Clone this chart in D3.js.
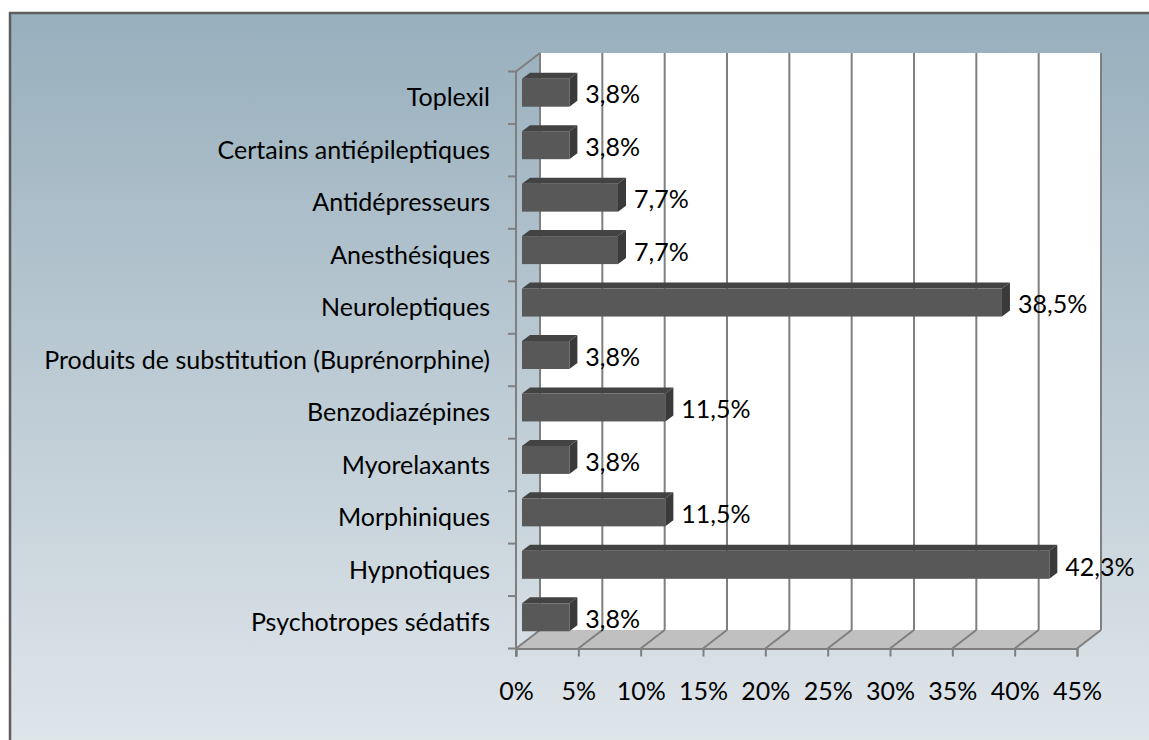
<!DOCTYPE html>
<html>
<head>
<meta charset="utf-8">
<script src="https://cdn.jsdelivr.net/npm/d3@7"></script>
<style>
  body { margin: 0; background: #ffffff; }
  text { font-family: Lato, "Open Sans", sans-serif; fill: #000; }
</style>
</head>
<body>
<svg id="svgCanvas" width="1149" height="740"></svg>
<script>
var categories = ["Toplexil", "Certains antiépileptiques", "Antidépresseurs", "Anesthésiques",
                  "Neuroleptiques", "Produits de substitution (Buprénorphine)", "Benzodiazépines",
                  "Myorelaxants", "Morphiniques", "Hypnotiques", "Psychotropes sédatifs"];
var values = [3.8, 3.8, 7.7, 7.7, 38.5, 3.8, 11.5, 3.8, 11.5, 42.3, 3.8];
var valueLabels = ["3,8%", "3,8%", "7,7%", "7,7%", "38,5%", "3,8%", "11,5%", "3,8%", "11,5%", "42,3%", "3,8%"];
var xTicks = [0, 5, 10, 15, 20, 25, 30, 35, 40, 45];

var canvas = d3.select("#svgCanvas");

// 3D depth of the plot box
var depthX = 24, depthY = -18.5;
// bar placement inside the depth
var barOffX = 6, barOffY = -5;
var barDX = 8, barDY = -6;
var barH = 28;
var fontSize = 25;

var x = d3.scaleLinear().domain([0, 45]).range([516, 1077]);
var y = d3.scaleBand().domain(categories).range([71.5, 648.5]);

var bottomY = y.range()[1], topY = y.range()[0];

// background
var defs = canvas.append("defs");
var grad = defs.append("linearGradient")
                .attr("id", "bg")
                .attr("x1", 0).attr("y1", 0).attr("x2", 0).attr("y2", 1);
grad.append("stop").attr("offset", "0%").attr("stop-color", "#98afbd");
grad.append("stop").attr("offset", "100%").attr("stop-color", "#e2e8ec");

canvas.append("rect")
        .attr("x", 10)
        .attr("y", 13)
        .attr("width", 1200)
        .attr("height", 760)
        .attr("fill", "url(#bg)")
        .attr("stroke", "#5e5e5e")
        .attr("stroke-width", 2.5);

// back wall
canvas.append("rect")
        .attr("x", x(0) + depthX)
        .attr("y", topY + depthY)
        .attr("width", x(45) - x(0))
        .attr("height", bottomY - topY)
        .attr("fill", "#ffffff");

// floor
canvas.append("polygon")
        .attr("points", [[x(0), bottomY], [x(45), bottomY], [x(45) + depthX, bottomY + depthY], [x(0) + depthX, bottomY + depthY]].join(" "))
        .attr("fill", "#c0c0c0");

// gridlines on back wall and floor
xTicks.forEach(function(t) {
    canvas.append("line")
            .attr("x1", x(t) + depthX)
            .attr("y1", topY + depthY)
            .attr("x2", x(t) + depthX)
            .attr("y2", bottomY + depthY)
            .attr("stroke", "#7f7f7f")
            .attr("stroke-width", 2);
    canvas.append("line")
            .attr("x1", x(t))
            .attr("y1", bottomY)
            .attr("x2", x(t) + depthX)
            .attr("y2", bottomY + depthY)
            .attr("stroke", "#7f7f7f")
            .attr("stroke-width", 2);
});

// side wall top edge
canvas.append("line")
        .attr("x1", x(0))
        .attr("y1", topY)
        .attr("x2", x(0) + depthX)
        .attr("y2", topY + depthY)
        .attr("stroke", "#7f7f7f")
        .attr("stroke-width", 2);

// axes
var xAxis = d3.axisBottom(x).tickValues(xTicks).tickSize(8).tickFormat(function(d) { return d + "%"; });
var gx = canvas.append("g")
        .attr("transform", "translate(0," + bottomY + ")")
        .call(xAxis);
gx.select(".domain").attr("stroke", "#7f7f7f").attr("stroke-width", 2);
gx.selectAll(".tick line").attr("stroke", "#7f7f7f").attr("stroke-width", 2);
gx.selectAll(".tick text")
        .attr("y", 43)
        .attr("dy", "0.35em")
        .style("font-size", fontSize + "px")
        .style("font-family", "Lato, sans-serif")
        .attr("fill", "#000");

canvas.append("line")
        .attr("x1", x(0))
        .attr("y1", topY)
        .attr("x2", x(0))
        .attr("y2", bottomY + 8)
        .attr("stroke", "#7f7f7f")
        .attr("stroke-width", 2);

// category ticks
var bounds = categories.map(function(c) { return y(c); }).concat([bottomY]);
bounds.forEach(function(b) {
    canvas.append("line")
            .attr("x1", x(0) - 8)
            .attr("y1", b)
            .attr("x2", x(0))
            .attr("y2", b)
            .attr("stroke", "#7f7f7f")
            .attr("stroke-width", 2);
});

// category labels
canvas.selectAll(".catLabel")
        .data(categories)
        .enter().append("text")
        .attr("class", "catLabel")
        .attr("x", 490)
        .attr("y", function(d) { return y(d) + y.bandwidth() / 2; })
        .attr("dy", "0.35em")
        .attr("text-anchor", "end")
        .style("font-size", fontSize + "px")
        .text(function(d) { return d; });

// bars
for (var i = 0; i < categories.length; i++) {
    var x0 = x(0) + barOffX;
    var x1 = x(values[i]) + barOffX;
    var cy = y(categories[i]) + y.bandwidth() / 2 + barOffY;
    var y0 = cy - barH / 2, y1 = cy + barH / 2;

    // top face
    canvas.append("polygon")
            .attr("points", [[x0, y0], [x1, y0], [x1 + barDX, y0 + barDY], [x0 + barDX, y0 + barDY]].join(" "))
            .attr("fill", "#434343");
    // side face
    canvas.append("polygon")
            .attr("points", [[x1, y0], [x1 + barDX, y0 + barDY], [x1 + barDX, y1 + barDY], [x1, y1]].join(" "))
            .attr("fill", "#3a3a3a");
    // front face
    canvas.append("rect")
            .attr("x", x0)
            .attr("y", y0)
            .attr("width", x1 - x0)
            .attr("height", barH)
            .attr("fill", "#585858");

    canvas.append("text")
            .attr("x", x1 + barDX + 8)
            .attr("y", cy + 2)
            .attr("dy", "0.35em")
            .style("font-size", fontSize + "px")
            .text(valueLabels[i]);
}
</script>
</body>
</html>
